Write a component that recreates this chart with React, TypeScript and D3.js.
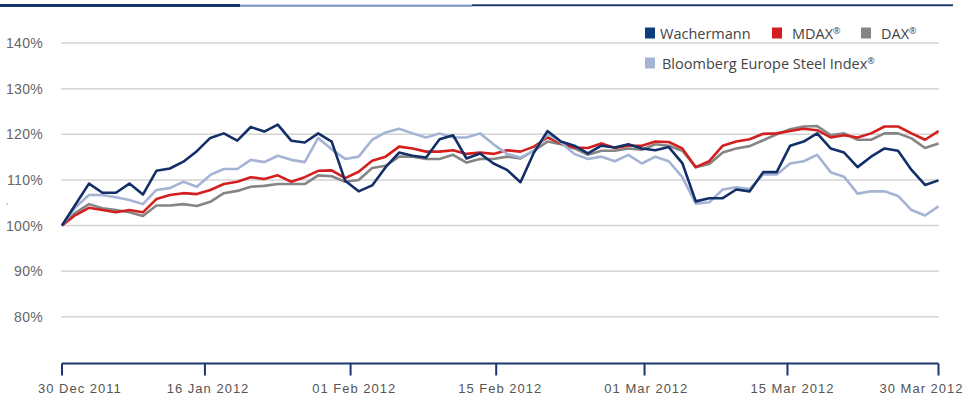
import * as d3 from "d3";

// Indexed performance, 30 Dec 2011 = 100%, one value per trading day
const WACHERMANN = [
	100, 104.6, 109.2, 107.2, 107.2, 109.2, 106.8, 112.0, 112.5, 114.0, 116.3, 119.2, 120.2, 118.6,
	121.6, 120.6, 122.1, 118.6, 118.2, 120.2, 118.4, 109.8, 107.5, 108.8, 112.8, 116.0, 115.3, 114.9,
	118.9, 119.8, 114.7, 115.8, 113.6, 112.2, 109.5, 116.0, 120.7, 118.4, 117.5, 115.8, 117.5, 117.1,
	117.8, 116.9, 116.5, 117.2, 113.7, 105.3, 106.0, 106.0, 107.9, 107.5, 111.7, 111.7, 117.5, 118.4,
	120.2, 116.9, 116.0, 112.8, 115.1, 116.9, 116.4, 112.2, 108.9, 109.9,
];

const MDAX = [
	100, 102.3, 103.9, 103.4, 102.9, 103.4, 102.9, 105.8, 106.7, 107.1, 106.9, 107.8, 109.1, 109.6,
	110.6, 110.2, 111.0, 109.6, 110.6, 112.0, 112.1, 110.4, 111.8, 114.2, 115.1, 117.3, 116.9, 116.2,
	116.2, 116.5, 115.7, 116.0, 115.7, 116.5, 116.2, 117.3, 119.3, 118.0, 117.1, 117.0, 118.0, 117.0,
	117.5, 117.5, 118.4, 118.3, 116.9, 112.8, 114.1, 117.5, 118.4, 118.9, 120.1, 120.2, 120.7, 121.2,
	120.9, 119.3, 119.8, 119.3, 120.2, 121.7, 121.7, 120.2, 118.8, 120.7,
];

const DAX = [
	100, 102.8, 104.7, 103.8, 103.4, 102.9, 102.1, 104.4, 104.4, 104.7, 104.3, 105.2, 107.1, 107.6,
	108.5, 108.7, 109.1, 109.1, 109.1, 111.0, 110.8, 109.6, 110.0, 112.6, 113.1, 115.1, 115.1, 114.6,
	114.6, 115.5, 113.8, 114.6, 114.6, 115.1, 114.7, 116.4, 118.4, 117.8, 116.9, 115.5, 116.4, 116.4,
	116.9, 116.6, 117.8, 117.5, 116.4, 112.8, 113.5, 116.0, 116.9, 117.4, 118.7, 120.0, 121.1, 121.7,
	121.8, 119.8, 120.2, 118.8, 118.8, 120.2, 120.2, 119.1, 117.0, 118.0,
];

const STEEL = [
	100, 104.0, 106.7, 106.7, 106.2, 105.6, 104.7, 107.8, 108.2, 109.6, 108.5, 111.1, 112.4, 112.4,
	114.4, 113.9, 115.3, 114.4, 113.9, 119.2, 116.7, 114.6, 115.1, 118.8, 120.4, 121.2, 120.2, 119.3,
	120.2, 119.3, 119.3, 120.2, 117.8, 115.7, 114.9, 116.4, 120.1, 118.2, 115.7, 114.6, 115.1, 114.1,
	115.5, 113.6, 115.1, 114.1, 110.6, 104.8, 105.1, 107.9, 108.4, 108.0, 111.2, 111.2, 113.6, 114.1,
	115.5, 111.7, 110.7, 107.0, 107.5, 107.5, 106.5, 103.4, 102.2, 104.2,
];

const Y_TICKS = [80, 90, 100, 110, 120, 130, 140];

const X_LABELS = [
	"30 Dec 2011",
	"16 Jan 2012",
	"01 Feb 2012",
	"15 Feb 2012",
	"01 Mar 2012",
	"15 Mar 2012",
	"30 Mar 2012",
];
// tick positions on the trading-day index
const X_TICK_POS = [0, 10.6, 21.4, 32.2, 43.2, 53.8, 65];

const SERIES = [
	{ name: "DAX", values: DAX, color: "#858585" },
	{ name: "MDAX", values: MDAX, color: "#d3201f" },
	{ name: "Bloomberg", values: STEEL, color: "#a5b4d4" },
	{ name: "Wachermann", values: WACHERMANN, color: "#122f68" },
];

const W = 968;
const H = 400;

export default function App() {
	const x = d3.scaleLinear().domain([0, WACHERMANN.length - 1]).range([62, 938.5]);
	const y = d3.scaleLinear().domain([70, 140]).range([362.5, 43]);
	const line = d3
		.line<number>()
		.x((_, i) => x(i))
		.y((d) => y(d));

	const gridX0 = 61;
	const gridX1 = 939;
	const axisY = y(70) + 1;
	const labelFont = "'Liberation Sans', Arial, sans-serif";
	const legendFont = "'Open Sans', sans-serif";
	const n = X_LABELS.length - 1;

	return (
		<div style={{ position: "fixed", left: 0, top: 0, width: W, height: H, background: "#fff" }}>
			<svg width={W} height={H} style={{ display: "block" }}>
				{/* top bar */}
				<rect x={0} y={4} width={240} height={3} fill="#17336c" />
				<rect x={240} y={4.6} width={232} height={2.2} fill="#7f99c6" />
				<rect x={472} y={4.3} width={481} height={1.9} fill="#17336c" />

				{/* grid */}
				{Y_TICKS.map((t) => (
					<g key={t}>
						<line x1={gridX0} x2={gridX1} y1={y(t)} y2={y(t)} stroke="#d4d4d4" strokeWidth={1.5} />
						<text
							x={43}
							y={y(t) + 5}
							textAnchor="end"
							fontFamily={labelFont}
							fontSize={14}
							letterSpacing={0.3}
							fill="#666"
						>
							{t}%
						</text>
					</g>
				))}
				<circle cx={7} cy={204} r={0.8} fill="#999" />

				{/* x axis */}
				<line x1={x(0)} x2={x(X_TICK_POS[n])} y1={axisY} y2={axisY} stroke="#1b3670" strokeWidth={2} />
				{X_TICK_POS.map((p, i) => (
					<line key={i} x1={x(p)} x2={x(p)} y1={axisY} y2={axisY + 12} stroke="#1b3670" strokeWidth={2} />
				))}
				{X_LABELS.map((lab, i) => {
					const even = x(((WACHERMANN.length - 1) * i) / n);
					let anchor: "start" | "middle" | "end" = "middle";
					let lx = even;
					if (i === 0) {
						anchor = "start";
						lx = even - 24;
					} else if (i === n) {
						anchor = "end";
						lx = even + 25;
					}
					return (
						<text
							key={lab}
							x={lx}
							y={393}
							textAnchor={anchor}
							fontFamily={labelFont}
							fontSize={13}
							letterSpacing={1}
							fill="#555"
						>
							{lab}
						</text>
					);
				})}

				{/* lines */}
				{SERIES.map((s) => (
					<path
						key={s.name}
						d={line(s.values) ?? ""}
						fill="none"
						stroke={s.color}
						strokeWidth={2.6}
						strokeLinejoin="round"
					/>
				))}

				{/* legend */}
				<g fontFamily={legendFont} fontSize={14.5} fill="#444">
					<rect x={645} y={27.5} width={10} height={11} fill="#0c3d7c" />
					<text x={660} y={38.5}>Wachermann</text>
					<rect x={772} y={27.5} width={10} height={11} fill="#d41e1e" />
					<text x={792} y={38.5}>
						MDAX<tspan fontSize={9} dy={-5}>®</tspan>
					</text>
					<rect x={861} y={27.5} width={10} height={11} fill="#858585" />
					<text x={881} y={38.5}>
						DAX<tspan fontSize={9} dy={-5}>®</tspan>
					</text>
					<rect x={645} y={57.5} width={10} height={11} fill="#a5b4d4" />
					<text x={662} y={68.5}>
						Bloomberg Europe Steel Index<tspan fontSize={9} dy={-5}>®</tspan>
					</text>
				</g>
			</svg>
		</div>
	);
}
